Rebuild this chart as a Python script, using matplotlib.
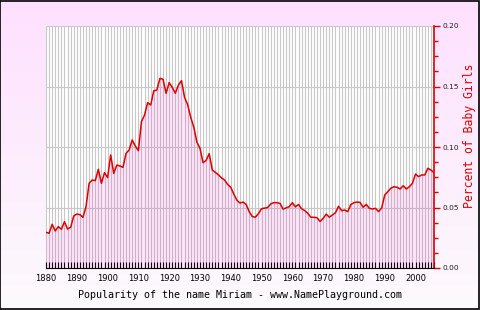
import numpy as np
import matplotlib
matplotlib.use("Agg")
import matplotlib.pyplot as plt
from matplotlib.ticker import MultipleLocator

# popularity of "Miriam", share of baby girls per year, 1880-2006
years = list(range(1880, 2007))
share = [
    0.0295, 0.0287, 0.0361, 0.0306, 0.0342, 0.0320, 0.0383, 0.0322, 0.0336, 0.0430,
    0.0446, 0.0441, 0.0419, 0.0507, 0.0700, 0.0727, 0.0722, 0.0816, 0.0700, 0.0788,
    0.0747, 0.0934, 0.0782, 0.0851, 0.0843, 0.0832, 0.0948, 0.0975, 0.1058, 0.1008,
    0.0970, 0.1210, 0.1264, 0.1366, 0.1347, 0.1465, 0.1470, 0.1567, 0.1560, 0.1444,
    0.1532, 0.1493, 0.1444, 0.1512, 0.1548, 0.1410, 0.1350, 0.1245, 0.1165, 0.1040,
    0.0990, 0.0870, 0.0890, 0.0945, 0.0810, 0.0790, 0.0770, 0.0745, 0.0727, 0.0690,
    0.0667, 0.0610, 0.0560, 0.0537, 0.0545, 0.0525, 0.0465, 0.0425, 0.0420, 0.0450,
    0.0490, 0.0495, 0.0500, 0.0530, 0.0540, 0.0540, 0.0534, 0.0487, 0.0497, 0.0507,
    0.0540, 0.0505, 0.0525, 0.0490, 0.0475, 0.0452, 0.0420, 0.0419, 0.0416, 0.0385,
    0.0410, 0.0445, 0.0420, 0.0438, 0.0457, 0.0510, 0.0474, 0.0479, 0.0466, 0.0525,
    0.0540, 0.0545, 0.0542, 0.0502, 0.0526, 0.0493, 0.0488, 0.0493, 0.0466, 0.0496,
    0.0603, 0.0631, 0.0660, 0.0672, 0.0667, 0.0653, 0.0680, 0.0653, 0.0672, 0.0700,
    0.0777, 0.0755, 0.0769, 0.0769, 0.0824, 0.0810, 0.0788,
]
decades = list(range(1880, 2001, 10))
yticks = [0.0, 0.05, 0.10, 0.15, 0.20]

red = '#dd0000'

fig = plt.figure(figsize=(4.8, 3.1), dpi=100)

# pink to white background behind everything
bg = fig.add_axes([0, 0, 1, 1], zorder=-10)
top = np.array([255, 224, 255]) / 255
bot = np.array([252, 250, 252]) / 255
t = np.linspace(0, 1, 256)[:, None]
grad = (top * (1 - t) + bot * t)[:, None, :]
bg.imshow(grad, aspect='auto', extent=[0, 1, 0, 1])
bg.set_xlim(0, 1)
bg.set_ylim(0, 1)
bg.axis('off')
bg.add_patch(plt.Rectangle((0.001, 0.002), 0.997, 0.996, fill=False,
                           edgecolor='black', linewidth=1.2))

ax = fig.add_axes([46 / 480, 1 - 268 / 310, 388 / 480, 242 / 310])
ax.set_facecolor('white')
ax.set_xlim(years[0], years[-1])
ax.set_ylim(0, 0.2)

# one grey line per year, plus the horizontal grid
ax.vlines(years[:-1], 0, 0.2, color='#c8c8c8', linewidth=0.8, zorder=1)
ax.hlines(yticks[1:], years[0], years[-1], color='#c8c8c8', linewidth=0.8, zorder=1)

ax.fill_between(years, share, 0, color='#ff00c8', alpha=0.1, linewidth=0, zorder=2)
ax.plot(years, share, color=red, linewidth=1.1, zorder=3)

for s in ['left', 'top']:
    ax.spines[s].set_visible(False)
ax.spines['right'].set_color(red)
ax.spines['right'].set_linewidth(1.2)
ax.spines['bottom'].set_color('black')
ax.spines['bottom'].set_linewidth(0.8)

ax.set_xticks(decades)
ax.set_xticklabels([str(d) for d in decades])
ax.xaxis.set_minor_locator(MultipleLocator(1))
ax.tick_params(axis='x', which='both', direction='in', length=4, width=0.8,
               color='black', labelsize=6, pad=4)

ax.yaxis.tick_right()
ax.set_yticks(yticks)
ax.set_yticklabels(['%.2f' % v for v in yticks])
ax.yaxis.set_minor_locator(MultipleLocator(0.0125))
ax.tick_params(axis='y', which='both', direction='out', length=4, width=1,
               color=red, labelsize=5.3, labelcolor='#222222', pad=2)
ax.tick_params(axis='y', which='minor', length=3)

fig.text(469 / 480, 1 - 136 / 310, 'Percent of Baby Girls', color=red,
         rotation=90, ha='center', va='center', fontsize=8.3, family='DejaVu Sans Mono')
fig.text(0.5, 1 - 295 / 310, 'Popularity of the name Miriam - www.NamePlayground.com',
         ha='center', va='center', fontsize=7.2, family='DejaVu Sans Mono', color='black')

fig.savefig('out.png', dpi=100)
